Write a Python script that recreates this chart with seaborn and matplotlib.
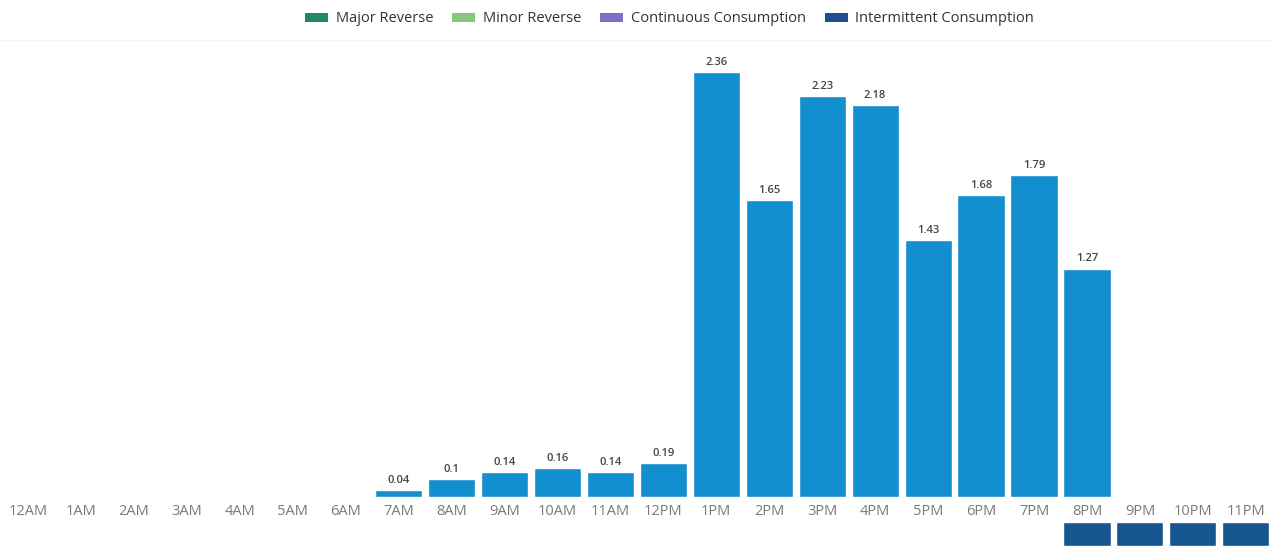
import matplotlib
matplotlib.use("Agg")
import matplotlib.pyplot as plt
from matplotlib.patches import Patch
import seaborn as sns
import pandas as pd

# ===================== Data =====================
hours = ["12AM", "1AM", "2AM", "3AM", "4AM", "5AM", "6AM", "7AM", "8AM", "9AM",
         "10AM", "11AM", "12PM", "1PM", "2PM", "3PM", "4PM", "5PM", "6PM", "7PM",
         "8PM", "9PM", "10PM", "11PM"]
usage = [0, 0, 0, 0, 0, 0, 0, 0.04, 0.1, 0.14,
         0.16, 0.14, 0.19, 2.36, 1.65, 2.23, 2.18, 1.43, 1.68, 1.79,
         1.27, 0, 0, 0]
# strip of dark boxes under the axis (cut off at bottom of the screenshot)
strip = [0] * 20 + [1, 1, 1, 1]

legend_labels = ["Major Reverse", "Minor Reverse", "Continuous Consumption", "Intermittent Consumption"]
legend_colors = ["#1f8a5f", "#82c97c", "#7b70c6", "#1f4e8c"]

bar_color = "#138ecf"

df = pd.DataFrame({"hour": hours, "usage": usage, "strip": strip})

# ===================== Figure =====================
sns.set_style("white")
plt.rcParams["font.family"] = ["Open Sans", "DejaVu Sans"]

fig = plt.figure(figsize=(12.8, 5.46), dpi=100)
ax = fig.add_axes([0.001, 0.0897, 0.993, 0.837])

sns.barplot(data=df, x="hour", y="usage", order=hours, color=bar_color,
            width=0.89, saturation=1, ax=ax)
ax.set_xlim(-0.5, 23.5)
ax.set_ylim(0, 2.54)

labels = [f"{v:g}" if v > 0 else "" for v in usage]
ax.bar_label(ax.containers[0], labels=labels, padding=3, fontsize=8,
             color="#444444", fontweight="semibold")

ax.set_xlabel("")
ax.set_ylabel("")
ax.set_yticks([])
ax.tick_params(axis="x", length=0, labelsize=10.5, labelcolor="#7a7a7a", pad=5)
for s in ax.spines.values():
    s.set_visible(False)
ax.axhline(2.54, color="#f5f5f5", lw=1)

# ===================== Bottom strip =====================
ax2 = fig.add_axes([0.001, 0.0, 0.993, 0.044])
sns.barplot(data=df, x="hour", y="strip", order=hours, color="#17558f",
            width=0.89, saturation=1, ax=ax2)
ax2.set_xlim(-0.5, 23.5)
ax2.set_ylim(0, 1)
ax2.axis("off")

# ===================== Legend =====================
handles = [Patch(facecolor=c, edgecolor="none") for c in legend_colors]
fig.legend(handles, legend_labels, loc="upper center", bbox_to_anchor=(0.523, 1.003),
           ncol=4, frameon=False, fontsize=10.5, handlelength=1.6, handleheight=0.55,
           columnspacing=1.3, handletextpad=0.5, labelcolor="#333333")

fig.savefig("out.png", dpi=100)
